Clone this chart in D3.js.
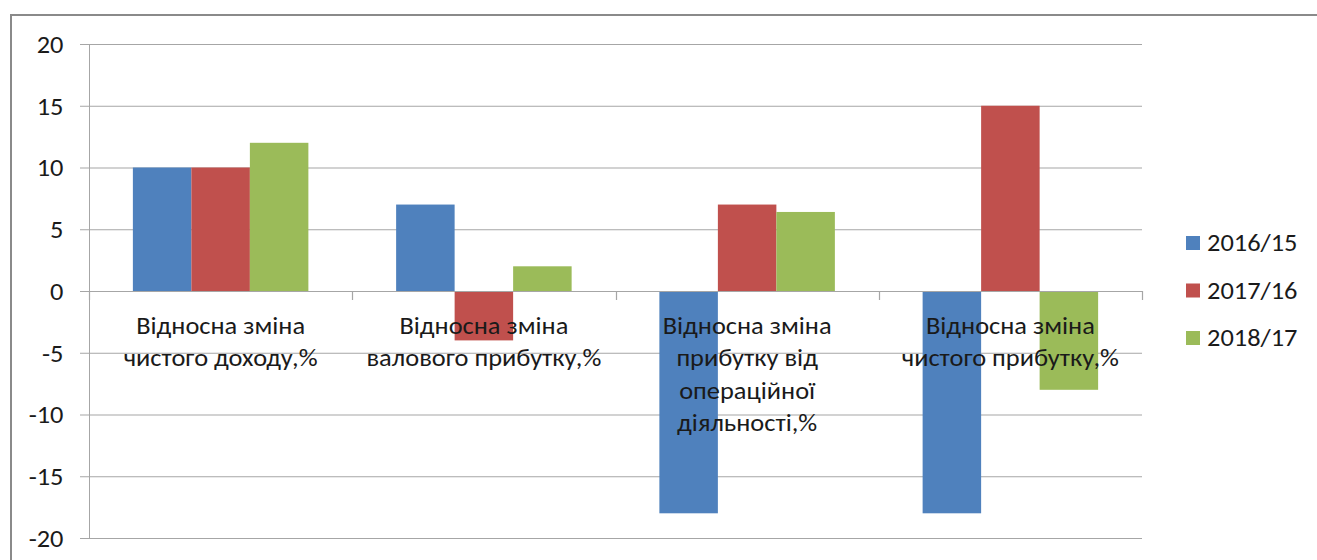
<!DOCTYPE html>
<html><head><meta charset="utf-8">
<script src="https://cdn.jsdelivr.net/npm/d3@7"></script>
<style>
html,body{margin:0;padding:0;background:#fff;}
svg text{font-family:Carlito,"Open Sans",sans-serif;fill:#1a1a1a;}
</style></head>
<body><svg id="c" width="1317" height="560"></svg>
<script>
const categories = [
  ["Відносна зміна","чистого доходу,%"],
  ["Відносна зміна","валового прибутку,%"],
  ["Відносна зміна","прибутку від","операційної","діяльності,%"],
  ["Відносна зміна","чистого прибутку,%"]
];
const seriesNames = ["2016/15","2017/16","2018/17"];
const seriesColors = ["#4F81BD","#C0504D","#9BBB59"];
const s2016_15 = [10, 7, -18, -18];
const s2017_16 = [10, -4, 7, 15];
const s2018_17 = [12, 2, 6.4, -8];
const yTicks = [-20,-15,-10,-5,0,5,10,15,20];

const series = [s2016_15, s2017_16, s2018_17];
const FS = 24, SX = 1.1;
const svg = d3.select("#c");

// outer border
svg.append("path").attr("d","M11,560 V15 H1317").attr("fill","none").attr("stroke","#8a8a8a").attr("stroke-width",2);

const x0 = d3.scaleBand().domain(d3.range(categories.length)).range([89,1142]);
const barW = x0.bandwidth()/(3+1.5);
const x1 = d3.scaleBand().domain(d3.range(3)).range([0,barW*3]);
const y = d3.scaleLinear().domain([-20,20]).range([538,44]);

// gridlines
svg.append("g").selectAll("line").data(yTicks).join("line")
  .attr("x1",80).attr("x2",1142).attr("y1",d=>y(d)+0.5).attr("y2",d=>y(d)+0.5)
  .attr("stroke","#a6a6a6").attr("stroke-width",1.2);

// y axis
const yAxis = d3.axisLeft(y).tickValues(yTicks).tickSize(9).tickPadding(0).tickFormat(d=>String(d));
const gy = svg.append("g").attr("transform","translate(89.5,0)").call(yAxis);
gy.select(".domain").attr("stroke","#a6a6a6").attr("d","M0,44 V538");
gy.selectAll(".tick line").remove();
gy.selectAll(".tick text").attr("x",0).attr("font-size",FS).attr("fill","#1a1a1a").attr("dy","0.35em")
  .attr("transform",`translate(-26,0) scale(${SX},1)`);

// bars
const groups = svg.append("g").selectAll("g").data(categories).join("g")
  .attr("transform",(d,i)=>`translate(${x0(i)+barW*0.75},0)`);
groups.selectAll("rect").data((d,i)=>series.map((s,k)=>({k,v:s[i]}))).join("rect")
  .attr("x",d=>x1(d.k)).attr("width",x1.bandwidth())
  .attr("y",d=>y(Math.max(0,d.v))).attr("height",d=>Math.abs(y(d.v)-y(0)))
  .attr("fill",d=>seriesColors[d.k]);

// x axis (zero line + ticks)
const xAxisLine = svg.append("g");
xAxisLine.append("line").attr("x1",89).attr("x2",1142).attr("y1",y(0)+0.5).attr("y2",y(0)+0.5).attr("stroke","#a6a6a6").attr("stroke-width",1.2);
const bounds = x0.domain().map(i=>x0(i)).concat([x0.range()[1]]);
xAxisLine.selectAll("line.t").data(bounds).join("line").attr("class","t")
  .attr("x1",d=>Math.round(d)+0.5).attr("x2",d=>Math.round(d)+0.5)
  .attr("y1",y(0)).attr("y2",y(0)+9).attr("stroke","#a6a6a6").attr("stroke-width",1.2);

// category labels
const lab = svg.append("g").selectAll("text").data(categories).join("text")
  .attr("text-anchor","middle").attr("font-size",FS)
  .attr("transform",(d,i)=>`translate(${x0(i)+x0.bandwidth()/2},334) scale(${SX},1)`);
lab.selectAll("tspan").data(d=>d).join("tspan")
  .attr("x",0).attr("dy",(d,j)=>j===0?0:32.5).text(d=>d);

// legend
const leg = svg.append("g").selectAll("g").data(seriesNames).join("g")
  .attr("transform",(d,i)=>`translate(1186,${243+i*47.5})`);
leg.append("rect").attr("x",0).attr("y",-7).attr("width",14).attr("height",14).attr("fill",(d,i)=>seriesColors[i]);
leg.append("text").attr("dy","0.35em").attr("font-size",FS)
  .attr("transform",`translate(21,0) scale(${SX},1)`).text(d=>d);
</script></body></html>
